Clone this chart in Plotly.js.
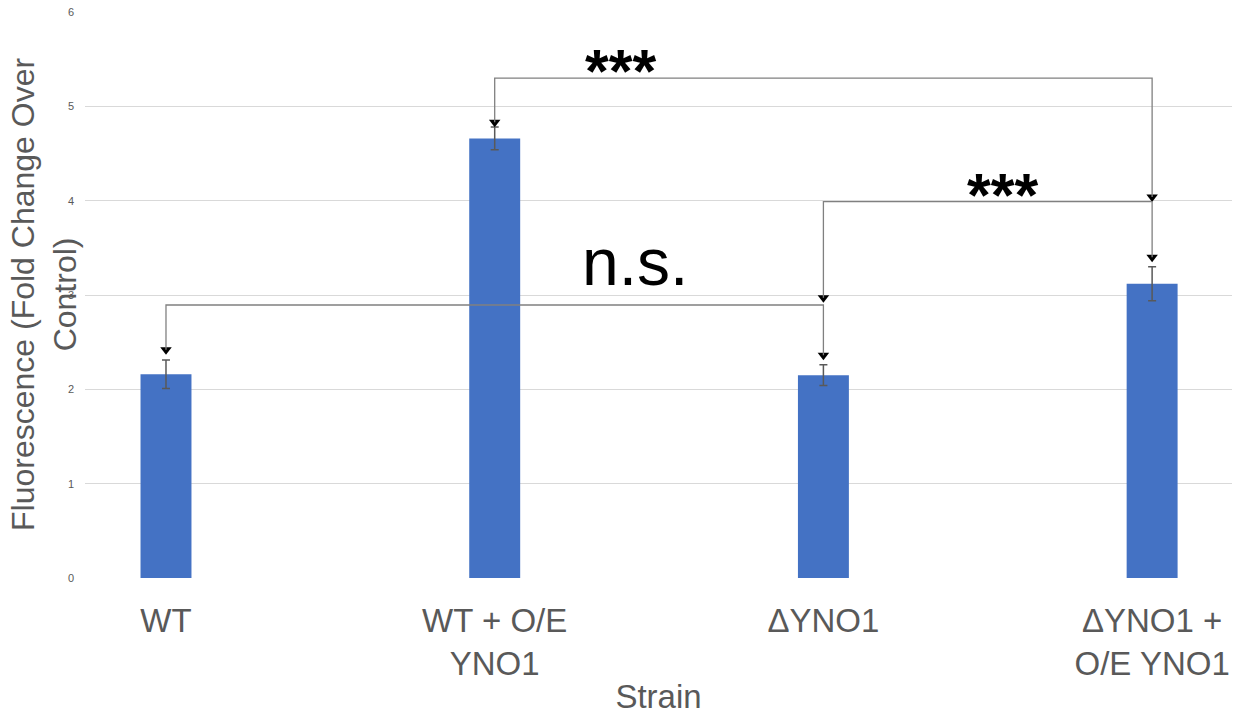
<!DOCTYPE html>
<html>
<head>
<meta charset="utf-8">
<script src="https://cdn.plot.ly/plotly-3.0.1.min.js"></script>
<style>
  html, body { margin: 0; padding: 0; background: #fff; }
  #chart { width: 1234px; height: 715px; }
</style>
</head>
<body>
<div id="chart"></div>
<script>
// Strains and measured fluorescence (fold change over control)
const strains = ['WT', 'WT + O/E<br>YNO1', '\u0394YNO1', '\u0394YNO1 +<br>O/E YNO1'];
const fluorescence = [2.16, 4.66, 2.15, 3.12];
const errorSize = [0.15, 0.12, 0.11, 0.18];
const yTicks = [0, 1, 2, 3, 4, 5, 6];

// Significance comparisons between strains (indices into strains)
const compFrom = [1, 2, 0];
const compTo = [3, 3, 2];
const compLabel = ['***', '***', 'n.s.'];

// Bracket geometry (in axis units): bar height, arrow tips, label placement
const bracketY = [5.30, 3.99, 2.894];
const tipFrom = [4.83, 2.97, 2.42];
const tipTo = [4.04, 3.40, 2.36];
const labelX = [1.384, 2.546, 1.427];

const FONT = 'Liberation Sans, Arial, Helvetica, sans-serif';
const idx = strains.map((_, i) => i);

const bars = {
  type: 'bar',
  x: idx,
  y: fluorescence,
  width: 0.155,
  marker: { color: '#4472C4' },
  error_y: { type: 'data', array: errorSize, visible: true, color: '#595959', thickness: 1.5, width: 4 },
  hoverinfo: 'skip'
};

// Arrowheads at each end of every bracket
const headX = [], headY = [];
compFrom.forEach((f, i) => {
  headX.push(f, compTo[i]);
  headY.push(tipFrom[i], tipTo[i]);
});
const heads = {
  type: 'scatter',
  mode: 'markers',
  x: headX,
  y: headY,
  marker: { symbol: 'triangle-down', size: 10, color: '#000' },
  hoverinfo: 'skip',
  cliponaxis: false
};

const shapes = compFrom.map((f, i) => ({
  type: 'path',
  xref: 'x', yref: 'y',
  path: `M ${f},${tipFrom[i]} L ${f},${bracketY[i]} L ${compTo[i]},${bracketY[i]} L ${compTo[i]},${tipTo[i]}`,
  line: { color: '#808080', width: 1.3 },
  layer: 'above'
}));

const annotations = compLabel.map((t, i) => {
  const stars = t === '***';
  return {
    xref: 'x', yref: 'y',
    x: labelX[i], y: bracketY[i],
    text: stars ? '<b>' + t + '</b>' : t,
    showarrow: false,
    xanchor: 'center', yanchor: 'bottom',
    yshift: stars ? -29 : 4,
    font: { family: FONT, size: stars ? 61 : 66, color: '#000' }
  };
});

// Y axis title
annotations.push({
  xref: 'paper', yref: 'paper',
  x: 0, y: 0.5,
  xshift: -41,
  text: 'Fluorescence (Fold Change Over<br>Control)',
  textangle: -90,
  showarrow: false,
  xanchor: 'center', yanchor: 'middle',
  font: { family: FONT, size: 32, color: '#595959' }
});

const layout = {
  width: 1234,
  height: 715,
  margin: { l: 85, r: 2, t: 12, b: 137 },
  paper_bgcolor: '#fff',
  plot_bgcolor: '#fff',
  showlegend: false,
  font: { family: FONT, color: '#595959' },
  xaxis: {
    range: [-0.2464, 3.243],
    tickmode: 'array',
    tickvals: idx,
    ticktext: strains,
    ticks: '',
    showgrid: false,
    zeroline: false,
    showline: false,
    ticklabelstandoff: 20,
    tickfont: { family: FONT, size: 33, color: '#595959' },
    title: { text: 'Strain', font: { family: FONT, size: 33, color: '#595959' }, standoff: 6 }
  },
  yaxis: {
    range: [0, 6],
    tickmode: 'array',
    tickvals: yTicks,
    ticks: '',
    showgrid: true,
    gridcolor: '#d9d9d9',
    gridwidth: 1,
    zeroline: false,
    showline: false,
    ticklabelstandoff: 10,
    tickfont: { family: FONT, size: 11, color: '#595959' }
  },
  shapes: shapes,
  annotations: annotations
};

Plotly.newPlot('chart', [bars, heads], layout, { displayModeBar: false, staticPlot: true });
</script>
</body>
</html>
